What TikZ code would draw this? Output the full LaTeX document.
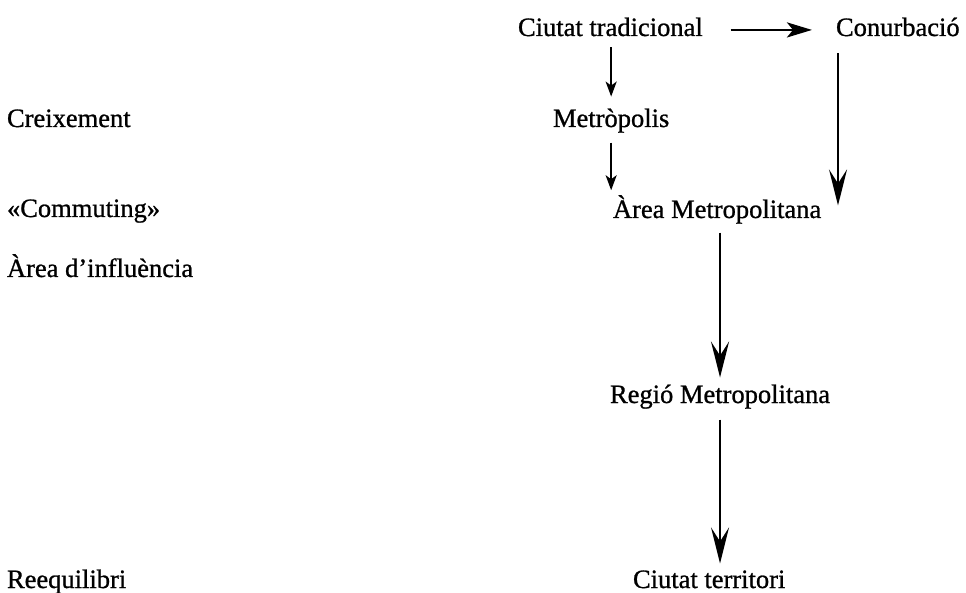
\documentclass[tikz,border=0pt]{standalone}
\usepackage{fontspec}
\setmainfont[FakeBold=1.2,AutoFakeBold=1.2]{Liberation Serif}
\newfontfamily\diagfont[FakeBold=0.9]{Liberation Serif}
\usetikzlibrary{arrows.meta,calc}
\tikzset{
  lbl/.style={inner sep=0pt, outer sep=0pt, anchor=base west, font=\diagfont\fontsize{26.5}{30}\selectfont},
  smallarr/.style={line width=2.2pt, -{Stealth[length=15pt,width=11pt,inset=4pt]}},
  bigarr/.style={line width=2.8pt, -{Stealth[length=36pt,width=18pt,inset=14pt]}},
  horarr/.style={line width=2.8pt, -{Stealth[length=25pt,width=15pt,inset=6pt]}},
}
\begin{document}
\begin{tikzpicture}[x=1pt,y=-1pt]
\useasboundingbox (0,0) rectangle (966,593);
% main column
\node[lbl] (ct) at (518,36) {Ciutat tradicional};
\node[lbl] (conurb) at (836,36) {Conurbació};
\node[lbl] (metr) at (553,127) {Metròpolis};
\node[lbl] (area) at (613,218) {Àrea Metropolitana};
\node[lbl] (regio) at (610,403) {Regió Metropolitana};
\node[lbl] (ctt) at (633,588) {Ciutat territori};
% left labels
\node[lbl] (creix) at (7,127) {Creixement};
\node[lbl] (comm) at (7,217) {«Commuting»};
\node[lbl] (infl) at (7,277) {Àrea d’influència};
\node[lbl] (reeq) at (7,588) {Reequilibri};
% connectors
\draw[horarr, shorten <=28pt, shorten >=24pt] ([yshift=-3pt]ct.east) -- ([yshift=-3pt]ct.east -| conurb.west);
\draw[smallarr, shorten <=11pt, shorten >=12pt] (ct.south -| metr.north) -- (metr.north);
\draw[smallarr, shorten <=10pt, shorten >=5pt] (metr.south) -- (metr.south |- area.north);
\draw[bigarr, shorten <=17pt, shorten >=4pt] ([xshift=2pt]conurb.south west) -- ([xshift=2pt]conurb.south west |- area.center);
\draw[bigarr, shorten <=9pt, shorten >=7pt] (area.south -| regio.north) -- (regio.north);
\draw[bigarr, shorten <=11pt, shorten >=7pt] (regio.south) -- (regio.south |- ctt.north);
\end{tikzpicture}
\end{document}
